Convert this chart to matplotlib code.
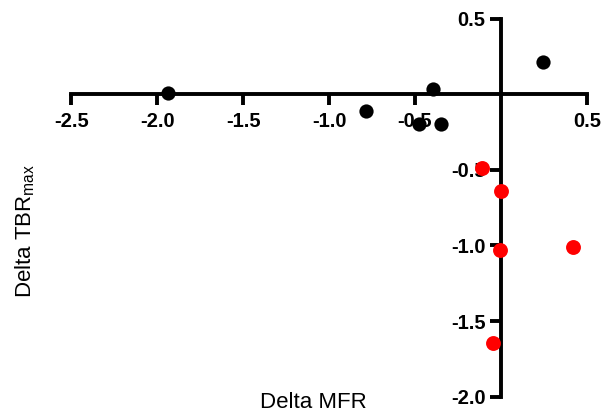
import numpy as np
import matplotlib
matplotlib.use("Agg")
import matplotlib.pyplot as plt

plt.rcParams['font.family'] = ['Liberation Sans', 'DejaVu Sans']
plt.rcParams['mathtext.default'] = 'regular'

# black group
black_x = [-1.94, -0.787, -0.395, -0.476, -0.346, 0.247]
black_y = [0.008, -0.109, 0.034, -0.195, -0.195, 0.214]

# red group
red_x = [-0.107, 0.0, -0.006, 0.422, -0.047]
red_y = [-0.487, -0.641, -1.032, -1.013, -1.648]

x_ticks = [-2.5, -2.0, -1.5, -1.0, -0.5, 0.5]
y_ticks = [0.5, -0.5, -1.0, -1.5, -2.0]

fig = plt.figure(figsize=(6.02, 4.17), dpi=100)
ax = fig.add_axes([0.1184, 0.0487, 0.8563, 0.9065])

ax.scatter(black_x, black_y, s=105, color='black', zorder=3, clip_on=False, linewidths=0)
ax.scatter(red_x, red_y, s=115, color='#ff0000', zorder=3, clip_on=False, linewidths=0)

ax.set_xlim(-2.5, 0.5)
ax.set_ylim(-2.0, 0.5)

ax.spines['left'].set_position(('data', 0))
ax.spines['bottom'].set_position(('data', 0))
ax.spines['top'].set_visible(False)
ax.spines['right'].set_visible(False)
for s in ['left', 'bottom']:
    ax.spines[s].set_linewidth(2.8)
    ax.spines[s].set_zorder(2)

ax.set_xticks(x_ticks)
ax.set_xticklabels([f"{t:.1f}" for t in x_ticks])
ax.set_yticks(y_ticks)
ax.set_yticklabels([f"{t:.1f}" for t in y_ticks])
ax.tick_params(axis='both', direction='out', length=8, width=2.8, labelsize=14.5)
ax.tick_params(axis='x', pad=5)
ax.tick_params(axis='y', pad=3)
for lab in ax.get_xticklabels() + ax.get_yticklabels():
    lab.set_fontweight('bold')

fig.text(313 / 602, 1 - 403 / 417, 'Delta MFR', fontsize=16, ha='center', va='center')
fig.text(25 / 602, 1 - 231 / 417, r'Delta TBR$_{max}$', fontsize=16,
         rotation=90, ha='center', va='center')

fig.savefig('out.png', dpi=100)
